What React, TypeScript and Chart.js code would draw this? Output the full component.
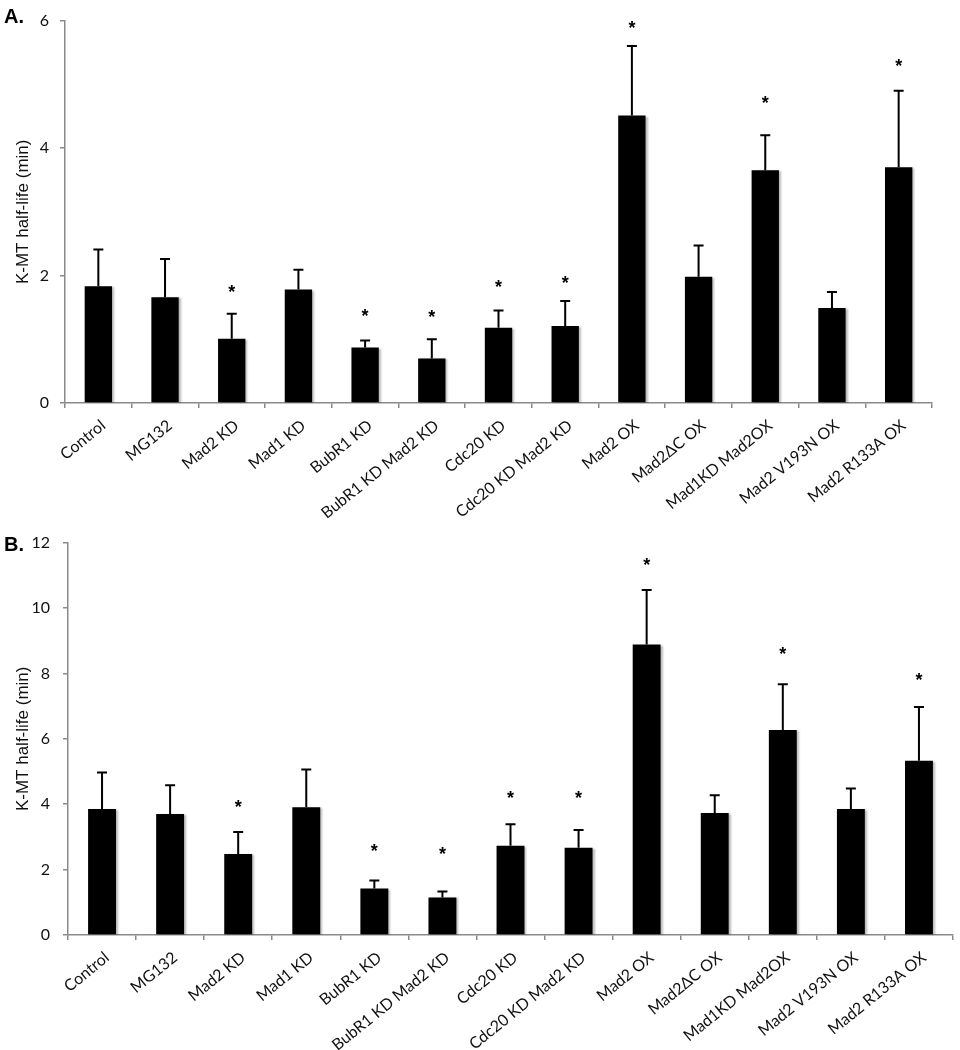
import React, { useEffect, useRef } from "react";
import { Chart, registerables } from "chart.js";

Chart.register(...registerables);

const categories = [
  "Control",
  "MG132",
  "Mad2 KD",
  "Mad1 KD",
  "BubR1 KD",
  "BubR1 KD Mad2 KD",
  "Cdc20 KD",
  "Cdc20 KD Mad2 KD",
  "Mad2 OX",
  "Mad2\u0394C OX",
  "Mad1KD Mad2OX",
  "Mad2 V193N OX",
  "Mad2 R133A OX",
];

// Panel A
const meansA = [1.83, 1.66, 1.01, 1.78, 0.87, 0.7, 1.18, 1.21, 4.51, 1.98, 3.65, 1.49, 3.7];
const errorsA = [0.58, 0.6, 0.39, 0.31, 0.11, 0.3, 0.27, 0.39, 1.09, 0.49, 0.55, 0.25, 1.2];
const starsA = [null, null, 1.79, null, 1.42, 1.4, 1.88, 1.94, 5.94, null, 4.76, null, 5.35];
const ticksA = [0, 2, 4, 6];

// Panel B
const meansB = [3.85, 3.7, 2.48, 3.91, 1.42, 1.15, 2.73, 2.67, 8.88, 3.73, 6.27, 3.85, 5.33];
const errorsB = [1.12, 0.88, 0.67, 1.15, 0.25, 0.18, 0.66, 0.54, 1.67, 0.54, 1.4, 0.63, 1.64];
const starsB = [null, null, 4.03, null, 2.67, 2.58, 4.3, 4.3, 11.42, null, 8.7, null, 7.91];
const ticksB = [0, 2, 4, 6, 8, 10, 12];

const yTitle = "K-MT half-life (min)";

type PanelProps = {
  means: number[];
  errors: number[];
  stars: (number | null)[];
  ticks: number[];
  top: number;
  height: number;
  yWidth: number;
  xHeight: number;
  padTop: number;
  padRight: number;
  tickPad: number;
};

function Panel(p: PanelProps) {
  const ref = useRef<HTMLCanvasElement | null>(null);
  useEffect(() => {
    if (!ref.current) return;
    const errPlugin = {
      id: "errStars",
      beforeDatasetsDraw(chart: any) {
        const ctx = chart.ctx;
        ctx.save();
        ctx.shadowColor = "rgba(0,0,0,0.28)";
        ctx.shadowOffsetX = 2;
        ctx.shadowOffsetY = 1;
        ctx.shadowBlur = 2;
      },
      afterDatasetsDraw(chart: any) {
        const ctx = chart.ctx;
        ctx.restore();
        const y = chart.scales.y;
        const meta = chart.getDatasetMeta(0);
        ctx.save();
        ctx.strokeStyle = "#000";
        ctx.lineWidth = 2;
        p.means.forEach((m, i) => {
          const xp = meta.data[i].x;
          const y0 = y.getPixelForValue(m);
          const y1 = y.getPixelForValue(m + p.errors[i]);
          ctx.beginPath();
          ctx.moveTo(xp, y0);
          ctx.lineTo(xp, y1);
          ctx.moveTo(xp - 5, y1);
          ctx.lineTo(xp + 5, y1);
          ctx.stroke();
        });
        ctx.fillStyle = "#000";
        ctx.font = "bold 18px 'Liberation Sans'";
        ctx.textAlign = "center";
        ctx.textBaseline = "alphabetic";
        const mt = ctx.measureText("*");
        const off = (mt.actualBoundingBoxAscent - mt.actualBoundingBoxDescent) / 2;
        p.stars.forEach((s, i) => {
          if (s == null) return;
          const xp = meta.data[i].x;
          ctx.fillText("*", xp, y.getPixelForValue(s) + off);
        });
        ctx.restore();
      },
    };
    const chart = new Chart(ref.current, {
      type: "bar",
      data: {
        labels: categories,
        datasets: [
          {
            data: p.means,
            backgroundColor: "#000",
            borderWidth: 0,
            barPercentage: 0.41,
            categoryPercentage: 1,
          },
        ],
      },
      options: {
        responsive: false,
        animation: false,
        events: [],
        layout: { padding: { left: 0, right: p.padRight, top: p.padTop, bottom: 0 } },
        plugins: { legend: { display: false }, tooltip: { enabled: false } },
        scales: {
          x: {
            offset: true,
            grid: { offset: true, drawOnChartArea: false, tickLength: 5, color: "#8a8a8a", lineWidth: 1.5 },
            border: { color: "#8a8a8a", width: 1.5 },
            ticks: {
              autoSkip: false,
              minRotation: 39,
              maxRotation: 39,
              padding: 8,
              labelOffset: 5,
              color: "#111",
              font: { family: "Lato", size: 16 },
            },
            afterFit: (s: any) => {
              s.height = p.xHeight;
            },
          },
          y: {
            min: 0,
            max: p.ticks[p.ticks.length - 1],
            afterBuildTicks: (s: any) => {
              s.ticks = p.ticks.map((v) => ({ value: v }));
            },
            grid: { drawOnChartArea: false, tickLength: 5, color: "#8a8a8a", lineWidth: 1.5 },
            border: { color: "#8a8a8a", width: 1.5 },
            ticks: { padding: p.tickPad, color: "#111", font: { family: "Lato", size: 16 } },
            title: {
              display: true,
              text: yTitle,
              color: "#111",
              font: { family: "Liberation Sans", size: 17 },
              padding: { top: 13, bottom: 0 },
            },
            afterFit: (s: any) => {
              s.width = p.yWidth;
            },
          },
        },
      },
      plugins: [errPlugin],
    });
    return () => chart.destroy();
  }, []);
  return (
    <canvas
      ref={ref}
      width={960}
      height={p.height}
      style={{ position: "absolute", left: 0, top: p.top, width: 960, height: p.height }}
    />
  );
}

export default function App() {
  const letter: React.CSSProperties = {
    position: "absolute",
    left: 4,
    fontFamily: "'Liberation Sans', Arial, sans-serif",
    fontWeight: "bold",
    fontSize: 20,
    lineHeight: "20px",
    color: "#000",
    zIndex: 2,
  };
  return (
    <div style={{ position: "absolute", left: 0, top: 0, width: 960, height: 1050, background: "#fff" }}>
      <Panel
        means={meansB}
        errors={errorsB}
        stars={starsB}
        ticks={ticksB}
        top={520}
        height={530}
        yWidth={68}
        xHeight={115}
        padTop={19}
        padRight={7}
        tickPad={13}
      />
      <Panel
        means={meansA}
        errors={errorsA}
        stars={starsA}
        ticks={ticksA}
        top={0}
        height={540}
        yWidth={65}
        xHeight={137}
        padTop={17}
        padRight={28}
        tickPad={11}
      />
      <div style={{ ...letter, top: 6 }}>A.</div>
      <div style={{ ...letter, top: 534 }}>B.</div>
    </div>
  );
}
